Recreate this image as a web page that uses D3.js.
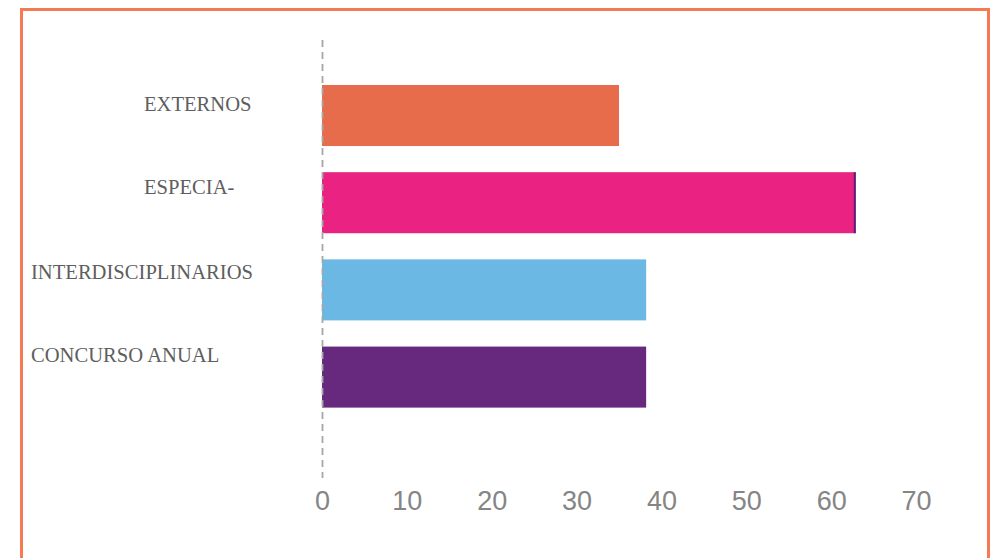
<!DOCTYPE html>
<html>
<head>
<meta charset="utf-8">
<script src="https://cdn.jsdelivr.net/npm/d3@7"></script>
<style>
  html, body { margin: 0; padding: 0; background: #fff; }
  svg { display: block; }
</style>
</head>
<body>
<svg id="chart" width="991" height="558"></svg>
<script>
// ---- data ----
const categories = ["EXTERNOS", "ESPECIA-", "INTERDISCIPLINARIOS", "CONCURSO ANUAL"];
const values = [35, 62.9, 38.2, 38.2];
const barColors = ["#E66C4C", "#EA2383", "#6BB8E4", "#67297D"];
const tickValues = [0, 10, 20, 30, 40, 50, 60, 70];

// ---- layout (not data) ----
const svg = d3.select("#chart");

// frame
svg.append("rect")
  .attr("x", 21.5).attr("y", 9.5)
  .attr("width", 967).attr("height", 560)
  .attr("fill", "none")
  .attr("stroke", "#F57A52")
  .attr("stroke-width", 3);

const x = d3.scaleLinear().domain([0, 70]).range([322, 916]);
const y = d3.scaleBand().domain(categories).range([85, 407.6])
  .paddingInner(0.3).paddingOuter(0);

// bars
svg.selectAll("rect.bar").data(categories).enter().append("rect")
  .attr("class", "bar")
  .attr("x", x(0))
  .attr("y", d => y(d))
  .attr("width", (d, i) => x(values[i]) - x(0))
  .attr("height", y.bandwidth())
  .attr("fill", (d, i) => barColors[i]);

// dark edge at end of the longest bar
const iMax = values.indexOf(d3.max(values));
svg.append("rect")
  .attr("x", x(values[iMax]) - 2)
  .attr("y", y(categories[iMax]))
  .attr("width", 2)
  .attr("height", y.bandwidth())
  .attr("fill", "#5B2279");

// dashed zero line
svg.append("line")
  .attr("x1", x(0) + 0.5).attr("x2", x(0) + 0.5)
  .attr("y1", 40).attr("y2", 478)
  .attr("stroke", "#A6A6A6")
  .attr("stroke-width", 1.8)
  .attr("stroke-dasharray", "7,5");

// category labels (positioned as in the original layout)
const labelX = [144, 144, 31, 31];
const labelDy = [-4.5, -8.5, -10.5, -15];
svg.selectAll("text.cat").data(categories).enter().append("text")
  .attr("class", "cat")
  .attr("x", (d, i) => labelX[i])
  .attr("y", (d, i) => y(d) + y.bandwidth() / 2 + labelDy[i])
  .attr("font-family", "'Liberation Serif', 'DejaVu Serif', serif")
  .attr("font-size", 20.6)
  .attr("fill", "#5E5E5E")
  .text(d => d);

// x axis
const axis = d3.axisBottom(x).tickValues(tickValues).tickSize(0).tickPadding(0)
  .tickFormat(d3.format("d"));
const gx = svg.append("g").attr("transform", "translate(0,491)").call(axis);
gx.select(".domain").remove();
gx.selectAll("text")
  .attr("font-family", "'Liberation Sans', Arial, sans-serif")
  .attr("font-size", 27)
  .attr("fill", "#858585")
  .attr("dy", "0.72em");
</script>
</body>
</html>
